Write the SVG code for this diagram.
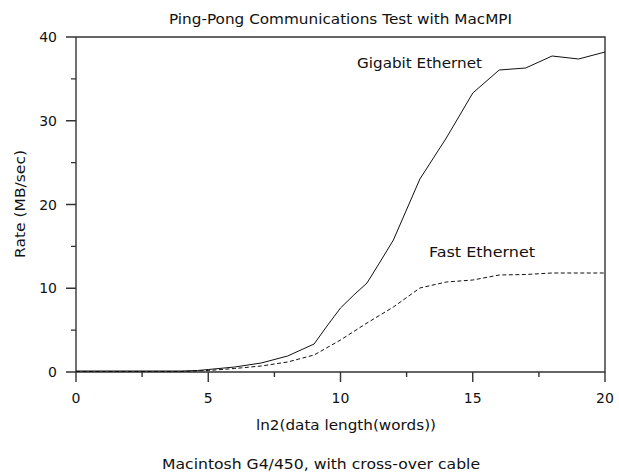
<svg xmlns="http://www.w3.org/2000/svg" width="619" height="476" viewBox="0 0 619 476">
<style>
text{font-family:"DejaVu Sans","Liberation Sans",sans-serif;fill:#111}
.tick{font-size:14px}
.lab{font-size:14px}
.axis{stroke:#333;stroke-width:1.4;fill:none}
.curve{stroke:#111;stroke-width:1;fill:none;stroke-linejoin:round}
.dash{stroke-dasharray:4 2.5}
</style>
<rect width="619" height="476" fill="#fff"/>
<g id="title"><text class="lab" x="340.5" y="24" text-anchor="middle" textLength="343" lengthAdjust="spacingAndGlyphs">Ping-Pong Communications Test with MacMPI</text></g>
<g id="frame">
<path class="axis" d="M76,37H605V372H66M76,37V382"/>
</g>
<g id="ticks" class="axis">
<path d="M66,37H76M66,120.75H76M66,204.5H76M66,288.25H76M71,78.9H76M71,162.6H76M71,246.4H76M71,330.1H76"/>
<path d="M208.25,372V382M340.5,372V382M472.75,372V382M605,372V382M142.1,372V377M274.4,372V377M406.6,372V377M538.9,372V377"/>
</g>
<g id="ytick-labels" class="tick" text-anchor="end">
<text class="tick" x="57" y="42">40</text>
<text class="tick" x="57" y="125.75">30</text>
<text class="tick" x="57" y="209.5">20</text>
<text class="tick" x="57" y="293.25">10</text>
<text class="tick" x="57" y="377">0</text>
</g>
<g id="xtick-labels" text-anchor="middle">
<text class="tick" x="76" y="403">0</text>
<text class="tick" x="208.25" y="403">5</text>
<text class="tick" x="340.5" y="403">10</text>
<text class="tick" x="472.75" y="403">15</text>
<text class="tick" x="605" y="403">20</text>
</g>
<g id="axis-labels">
<text class="lab" x="346" y="430" text-anchor="middle" textLength="180" lengthAdjust="spacingAndGlyphs">ln2(data length(words))</text>
<text class="lab" x="0" y="0" text-anchor="middle" transform="translate(25,204) rotate(-90)" textLength="108" lengthAdjust="spacingAndGlyphs">Rate (MB/sec)</text>
<text class="lab" x="321" y="469" text-anchor="middle" textLength="318" lengthAdjust="spacingAndGlyphs">Macintosh G4/450, with cross-over cable</text>
</g>
<g id="connectors">
<g id="gigabit">
<polyline class="curve" points="76,371 181.8,371 197.5,370.5 208.3,369.5 234.7,367 261.2,363 287.6,356 314.1,344 327,326 340.5,308 353.8,295 367,283 380,262 393.4,240 419.9,179 446.3,138 472.8,93 499.2,70 525.7,68 552.1,56 578.6,59 605,52"/>
<text class="lab" x="357" y="68" textLength="125" lengthAdjust="spacingAndGlyphs">Gigabit Ethernet</text>
</g>
<g id="fast">
<polyline class="curve dash" points="76,371.5 181.8,371.5 208.3,370.5 234.7,368.5 261.2,366 287.6,362 314.1,355 340.5,340 367,323 393.4,307 419.9,288 446.3,282 472.8,280 499.2,275 525.7,274.5 552.1,273 578.6,273 605,273"/>
<text class="lab" x="429" y="257" textLength="106" lengthAdjust="spacingAndGlyphs">Fast Ethernet</text>
</g>
</g>
</svg>
